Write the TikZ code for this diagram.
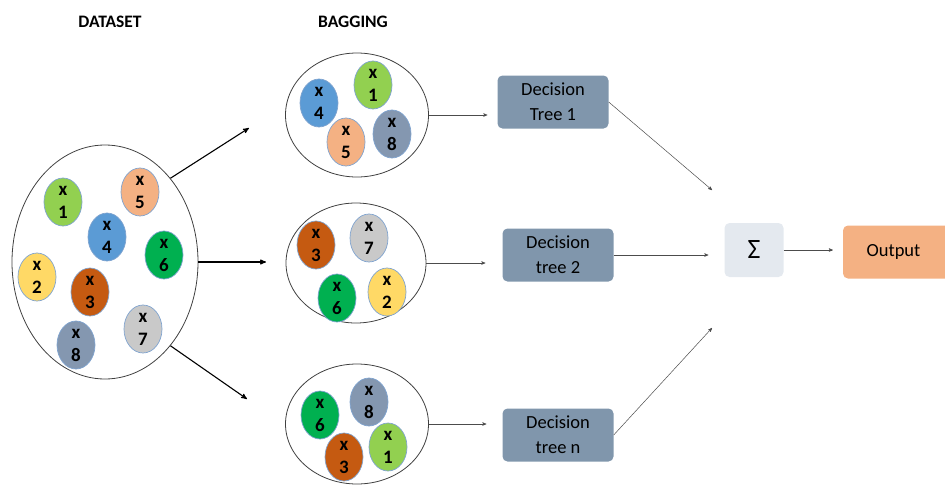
\documentclass[tikz,border=0pt]{standalone}
\usepackage{fontspec}
\setmainfont{Carlito}
\usetikzlibrary{arrows,shapes.geometric}

\definecolor{cgreenl}{HTML}{92D050}
\definecolor{cpeach}{HTML}{F4B183}
\definecolor{cblue}{HTML}{5B9BD5}
\definecolor{cgreen}{HTML}{00B050}
\definecolor{cyellow}{HTML}{FFD966}
\definecolor{cbrown}{HTML}{C55A11}
\definecolor{cgrey}{HTML}{C9C9C9}
\definecolor{cslate}{HTML}{8497B0}
\definecolor{ballline}{HTML}{7FA3CF}
\definecolor{treefill}{HTML}{8096AC}
\definecolor{sumfill}{HTML}{E4E9EF}

\begin{document}
\begin{tikzpicture}[x=1pt, y=-1pt, >=stealth',
    bag/.style={ellipse, draw=black!75, line width=0.8pt, inner sep=0pt},
    ball/.style={ellipse, draw=ballline, line width=0.7pt, minimum width=38pt, minimum height=48pt,
                 inner sep=-6pt, align=center, font=\fontsize{19}{23}\selectfont\bfseries},
    tree/.style={rectangle, rounded corners=5pt, fill=treefill, minimum width=111pt, minimum height=53pt,
                 align=center, font=\fontsize{18.5}{25}\selectfont},
    title/.style={font=\fontsize{17.5}{20}\selectfont\bfseries},
    bold arrow/.style={->, line width=1.1pt},
    thin arrow/.style={->, draw=black!70, line width=0.5pt}]
    \useasboundingbox (0,0) rectangle (945,485);

    % Titles
    \node [title]                           (ttl1)  at (110,22)   {DATASET};
    \node [title]                           (ttl2)  at (353,22)   {BAGGING};

    % Bags
    \node [bag, minimum width=186pt, minimum height=234pt]   (data)  at (105,262)  {};
    \node [bag, minimum width=143pt, minimum height=124pt]   (bag1)  at (357,115)  {};
    \node [bag, minimum width=140pt, minimum height=120pt]   (bag2)  at (356,263)  {};
    \node [bag, minimum width=143pt, minimum height=120pt]   (bag3)  at (357,424)  {};

    % Samples of the dataset
    \node [ball, fill=cgreenl]              (d1)    at (63,202)   {x\\1};
    \node [ball, fill=cyellow]              (d2)    at (37,277)   {x\\2};
    \node [ball, fill=cbrown]               (d3)    at (90,292)   {x\\3};
    \node [ball, fill=cblue]                (d4)    at (107,237)  {x\\4};
    \node [ball, fill=cpeach]               (d5)    at (140,192)  {x\\5};
    \node [ball, fill=cgreen]               (d6)    at (164,255)  {x\\6};
    \node [ball, fill=cgrey]                (d7)    at (143,329)  {x\\7};
    \node [ball, fill=cslate]               (d8)    at (76,345)   {x\\8};

    % Samples of bag 1
    \node [ball, fill=cblue]                (b1a)   at (319,103)  {x\\4};
    \node [ball, fill=cgreenl]              (b1b)   at (373,85)   {x\\1};
    \node [ball, fill=cpeach]               (b1c)   at (346,142)  {x\\5};
    \node [ball, fill=cslate]               (b1d)   at (392,134)  {x\\8};

    % Samples of bag 2
    \node [ball, fill=cbrown]               (b2a)   at (316,245)  {x\\3};
    \node [ball, fill=cgrey]                (b2b)   at (369,238)  {x\\7};
    \node [ball, fill=cgreen]               (b2c)   at (337,298)  {x\\6};
    \node [ball, fill=cyellow]              (b2d)   at (387,292)  {x\\2};

    % Samples of bag 3
    \node [ball, fill=cgreen]               (b3a)   at (320,415)  {x\\6};
    \node [ball, fill=cslate]               (b3b)   at (369,402)  {x\\8};
    \node [ball, fill=cgreenl]              (b3c)   at (388,447)  {x\\1};
    \node [ball, fill=cbrown]               (b3d)   at (344,457)  {x\\3};

    % Trees, sum and output
    \node [tree]                            (tree1) at (553,102)  {Decision\\Tree 1};
    \node [tree]                            (tree2) at (558,255)  {Decision\\tree 2};
    \node [tree]                            (tree3) at (558,435)  {Decision\\tree n};
    \node [rectangle, rounded corners=5pt, fill=sumfill, minimum width=59pt, minimum height=54pt,
           font=\fontsize{28}{30}\selectfont]                (sum)   at (754,250)  {Σ};
    \node [rectangle, rounded corners=5pt, fill=cpeach, minimum width=112pt, minimum height=53pt,
           font=\fontsize{18.5}{25}\selectfont]              (out)   at (899,252)  {\hspace*{-11pt}Output};

    % Free ends
    \coordinate (a1) at (249,128);
    \coordinate (a2) at (266,262);
    \coordinate (a3) at (247,399);
    \coordinate (s1) at (712,190);
    \coordinate (s3) at (712,328);

    % Paths
    \draw [bold arrow]   (data.52)  -- (a1);
    \draw [bold arrow]   (data.east) -- (a2);
    \draw [bold arrow]   (data.-52) -- (a3);
    \draw [thin arrow, shorten >=10pt]  (bag1.east) -- (bag1.east -| tree1.west);
    \draw [thin arrow, shorten >=17pt]  (bag2.east) -- (bag2.east -| tree2.west);
    \draw [thin arrow, shorten >=16pt]  (bag3.east) -- (bag3.east -| tree3.west);
    \draw [thin arrow]   (tree1.east) -- (s1);
    \draw [thin arrow]   (tree3.east) -- (s3);
    \draw [thin arrow, shorten >=16pt]  (tree2.east) -- (tree2.east -| sum.west);
    \draw [thin arrow, shorten >=10pt]  (sum.east) -- (sum.east -| out.west);
\end{tikzpicture}
\end{document}
